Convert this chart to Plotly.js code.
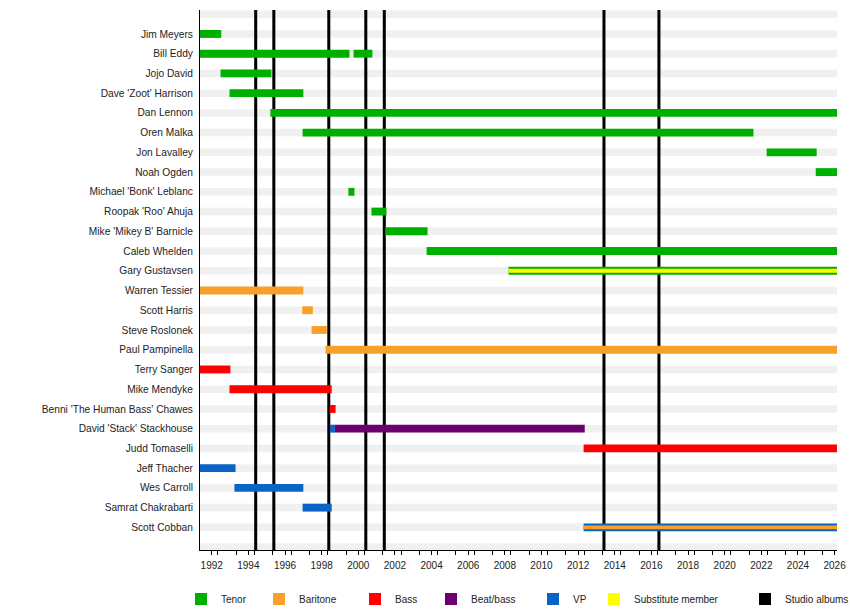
<!DOCTYPE html>
<html>
<head>
<meta charset="utf-8">
<script src="https://cdn.plot.ly/plotly-3.0.1.min.js"></script>
<style>
  body { margin: 0; background: #fff; }
  #chart { width: 850px; height: 610px; }
</style>
</head>
<body>
<div id="chart"></div>
<script>
// members, top to bottom
const members = ["Jim Meyers", "Bill Eddy", "Jojo David", "Dave 'Zoot' Harrison", "Dan Lennon",
  "Oren Malka", "Jon Lavalley", "Noah Ogden", "Michael 'Bonk' Leblanc", "Roopak 'Roo' Ahuja",
  "Mike 'Mikey B' Barnicle", "Caleb Whelden", "Gary Gustavsen", "Warren Tessier", "Scott Harris",
  "Steve Roslonek", "Paul Pampinella", "Terry Sanger", "Mike Mendyke", "Benni 'The Human Bass' Chawes",
  "David 'Stack' Stackhouse", "Judd Tomaselli", "Jeff Thacher", "Wes Carroll", "Samrat Chakrabarti",
  "Scott Cobban"];

const START = 1991.36;
const NOW = 2026.13;

// [member, from, to]
const tenor = [
  ["Jim Meyers", START, 1992.52],
  ["Bill Eddy", START, 1999.52],
  ["Bill Eddy", 1999.74, 2000.77],
  ["Jojo David", 1992.48, 1995.26],
  ["Dave 'Zoot' Harrison", 1992.97, 1997.0],
  ["Dan Lennon", 1995.2, NOW],
  ["Oren Malka", 1996.96, 2021.57],
  ["Jon Lavalley", 2022.29, 2025.02],
  ["Noah Ogden", 2024.97, NOW],
  ["Michael 'Bonk' Leblanc", 1999.46, 1999.79],
  ["Roopak 'Roo' Ahuja", 2000.72, 2001.54],
  ["Mike 'Mikey B' Barnicle", 2001.47, 2003.78],
  ["Caleb Whelden", 2003.73, NOW],
  ["Gary Gustavsen", 2008.2, NOW]
];
const baritone = [
  ["Warren Tessier", START, 1997.0],
  ["Scott Harris", 1996.94, 1997.52],
  ["Steve Roslonek", 1997.45, 1998.28],
  ["Paul Pampinella", 1998.21, NOW]
];
const baritoneSecond = [["Scott Cobban", 2012.3, NOW]];
const bass = [
  ["Terry Sanger", START, 1993.02],
  ["Mike Mendyke", 1992.97, 1998.55],
  ["Benni 'The Human Bass' Chawes", 1998.43, 1998.76],
  ["Judd Tomaselli", 2012.3, NOW]
];
const beatBass = [["David 'Stack' Stackhouse", 1998.72, 2012.36]];
const vp = [
  ["David 'Stack' Stackhouse", 1998.45, 1998.72],
  ["Jeff Thacher", START, 1993.3],
  ["Wes Carroll", 1993.24, 1997.0],
  ["Samrat Chakrabarti", 1996.96, 1998.55],
  ["Scott Cobban", 2012.3, NOW]
];
const substitute = [["Gary Gustavsen", 2008.2, NOW]];

const albumYears = [1994.4, 1995.39, 1998.39, 2000.41, 2001.42, 2013.41, 2016.41];
const tickYears = [1992, 1994, 1996, 1998, 2000, 2002, 2004, 2006, 2008, 2010, 2012, 2014,
  2016, 2018, 2020, 2022, 2024, 2026];

// layout helpers
const rowCount = members.length + 2;   // blank row above and below
const yTop = -0.213, yBottom = 27.147;
const BAR_W = 0.4, THIN_W = 0.2;

function rowOf(name) { return members.indexOf(name) + 1 }

function segTrace(name, color, legend, full, thin) {
  thin = thin || [];
  let all = full.concat(thin);
  return {
    type: 'bar', orientation: 'h', name: name, legend: legend,
    y: all.map(s => rowOf(s[0])),
    base: all.map(s => s[1]),
    x: all.map(s => s[2] - s[1]),
    width: full.map(() => BAR_W).concat(thin.map(() => THIN_W)),
    marker: { color: color, line: { width: 0 } },
    hoverinfo: 'skip'
  };
}

let rows = [];
for (let i = 0; i < rowCount; i++) rows.push(i);

let traces = [
  {
    type: 'bar', orientation: 'h', showlegend: false,
    y: rows, base: rows.map(() => START), x: rows.map(() => NOW - START),
    width: 0.38, marker: { color: '#f0f0f0', line: { width: 0 } }, hoverinfo: 'skip'
  },
  {
    type: 'bar', orientation: 'v', name: 'Studio albums', legend: 'legend7',
    x: albumYears, base: albumYears.map(() => yTop), y: albumYears.map(() => yBottom - yTop),
    width: 0.165, marker: { color: '#000000', line: { width: 0 } }, hoverinfo: 'skip'
  },
  segTrace('VP', '#0a64c8', 'legend5', vp),
  segTrace('Tenor', '#00b000', 'legend', tenor),
  segTrace('Baritone', '#f7a12a', 'legend2', baritone, baritoneSecond),
  segTrace('Bass', '#ff0000', 'legend3', bass),
  segTrace('Beat/bass', '#6c006e', 'legend4', beatBass),
  segTrace('Substitute member', '#ffff00', 'legend6', [], substitute)
];

// legend square left edges in pixels
const legendPx = [198, 276, 372, 448, 550, 611, 762];
const legendKeys = ['legend', 'legend2', 'legend3', 'legend4', 'legend5', 'legend6', 'legend7'];
const SQUARE_OFFSET = 17;

let layout = {
  width: 850, height: 610,
  margin: { l: 200, r: 13, t: 10, b: 60, pad: 0, autoexpand: false },
  paper_bgcolor: '#fff', plot_bgcolor: '#fff',
  barmode: 'overlay',
  font: { family: 'Liberation Sans, Arial, sans-serif', size: 10, color: '#222' },
  xaxis: {
    range: [START, NOW], tickmode: 'array', tickvals: tickYears, ticktext: tickYears.map(String),
    ticks: 'outside', ticklen: 4, tickwidth: 1, tickcolor: '#000',
    minor: { tick0: 1991.333, dtick: 1, ticks: 'outside', ticklen: 4, tickcolor: '#000', showgrid: false },
    showline: true, linecolor: '#000', linewidth: 1, showgrid: false, zeroline: false,
    ticklabelstandoff: 2, tickfont: { size: 10 }, fixedrange: true
  },
  yaxis: {
    range: [yBottom, yTop], tickmode: 'array', tickvals: members.map((m, i) => i + 1), ticktext: members,
    ticks: '', showline: true, linecolor: '#000', linewidth: 1, showgrid: false, zeroline: false,
    ticklabelstandoff: 4, tickfont: { size: 10.2 }, fixedrange: true
  },
  showlegend: true
};
legendKeys.forEach((k, i) => {
  layout[k] = {
    x: (legendPx[i] - SQUARE_OFFSET - 200) / 637, xanchor: 'left',
    y: -0.0907, yanchor: 'middle', orientation: 'h',
    bgcolor: 'rgba(0,0,0,0)', borderwidth: 0, font: { size: 10 }
  };
});

Plotly.newPlot('chart', traces, layout, { displayModeBar: false, staticPlot: true });
</script>
</body>
</html>
